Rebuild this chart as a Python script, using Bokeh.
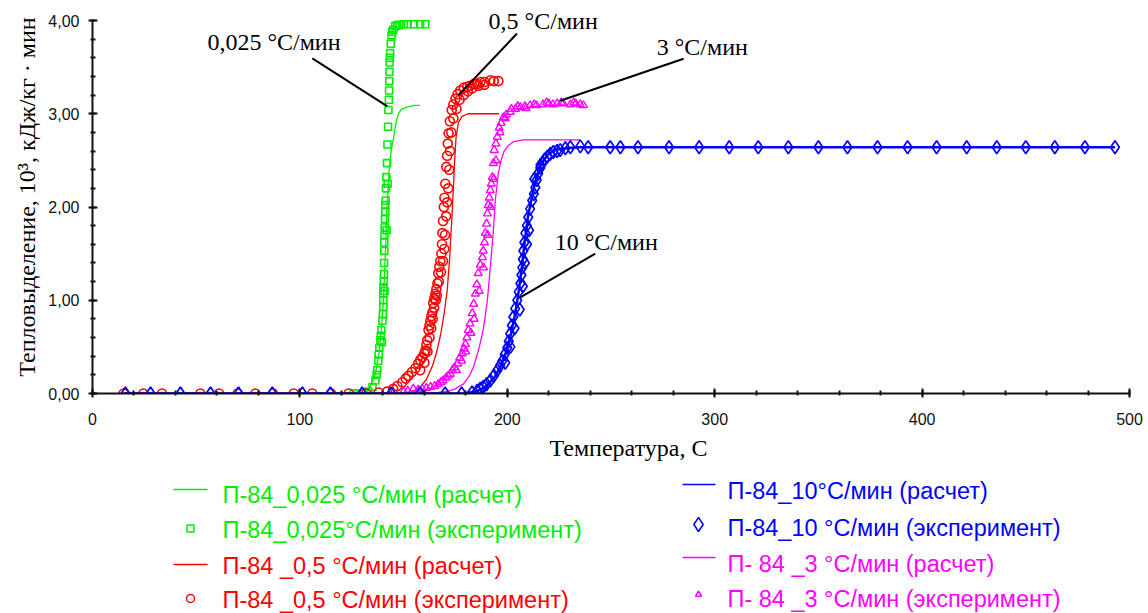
from bokeh.plotting import figure
from bokeh.models import Range1d, SingleIntervalTicker, CustomJSTickFormatter, Label
from bokeh.layouts import column
from bokeh.embed import file_html
from bokeh.resources import INLINE
from bokeh.core.properties import value

# ---------------- data ----------------
# 0,025 °C/min
green_calc_t = [15, 128, 131, 133, 134.5, 136, 137, 138, 139, 140.3, 141.2, 142, 143, 144, 145, 146.3, 147.5, 149, 151.8, 155, 158]
green_calc_v = [0, 0, 0.01, 0.04, 0.1, 0.18, 0.28, 0.42, 0.6, 1.0, 1.5, 2.0, 2.4, 2.6, 2.72, 2.9, 3.0, 3.05, 3.07, 3.09, 3.09]
green_exp_t = [126, 128, 131, 133, 135, 136.4, 137, 137.3, 137.8, 138, 138.3, 138.8, 139, 139.3, 139.8, 140, 140.2, 140.2, 140.2,
               140.3, 140.4, 140.5, 140.6, 140.7, 140.7, 140.8, 140.9, 141, 141.2, 141.2, 141.4, 141.5, 141.7, 142, 142.2, 142.5,
               142.7, 142.9, 143, 143.1, 143.2, 143.3, 143.5, 143.8, 144.2, 145, 146, 148, 150, 152, 155, 158, 160.5,
               139.5, 140.8, 141.8, 142.3, 143.4, 144.5, 147]
green_exp_v = [0, 0, 0.01, 0.02, 0.07, 0.14, 0.2, 0.25, 0.35, 0.42, 0.49, 0.57, 0.62, 0.68, 0.78, 0.85, 0.93, 1.0, 1.07,
               1.14, 1.2, 1.28, 1.4, 1.53, 1.62, 1.7, 1.78, 1.87, 1.95, 2.02, 2.07, 2.2, 2.32, 2.47, 2.67, 2.86,
               3.04, 3.15, 3.25, 3.35, 3.45, 3.55, 3.65, 3.75, 3.84, 3.9, 3.94, 3.95, 3.96, 3.96, 3.96, 3.96, 3.96,
               0.55, 1.1, 1.75, 2.25, 3.6, 3.88, 3.95]

# 0,5 °C/min
red_calc_t = [15, 150, 155, 158, 161, 164, 166, 168, 169.5, 171, 172.2, 173.2, 174, 174.6, 175.3, 176.4, 178, 181, 185, 196]
red_calc_v = [0, 0, 0.03, 0.07, 0.15, 0.3, 0.45, 0.65, 0.85, 1.1, 1.45, 1.85, 2.2, 2.5, 2.75, 2.9, 2.97, 3.0, 3.0, 3.0]
red_exp_t = [15, 24.5, 33.5, 52, 61, 70, 78.5, 87, 97, 106, 115, 123.5, 132, 138, 142,
             145, 147, 149.4, 151, 152.3, 154, 155.7, 157, 158, 159, 160, 160.5, 161, 161.4, 162, 162.5, 162.9, 163.4,
             163.9, 164.3, 164.8, 165.3, 165.8, 166.3, 166.7, 167.2, 167.7, 168.2, 168.5, 168.7, 169, 169.4, 169.7,
             170.1, 170.6, 171, 171.3, 171.7, 172.3, 173.2, 174, 175, 176, 177.3, 179, 180.7, 182, 184, 185.5, 187,
             189, 191.8, 193.5, 195.7,
             158, 160, 161.5, 162.5, 163.3, 164, 164.7, 165.5, 166, 167, 168, 169, 169.6, 170, 170.5, 171, 171.5,
             172, 172.4, 173, 174, 175.5, 177, 179, 181, 183, 186, 189]
red_exp_v = [0, 0, 0, 0, 0, 0, 0, 0, 0, 0, 0, 0, 0, 0.01, 0.02,
             0.05, 0.08, 0.12, 0.16, 0.19, 0.23, 0.27, 0.32, 0.36, 0.39, 0.43, 0.46, 0.52, 0.57, 0.68, 0.73, 0.78, 0.83,
             0.87, 0.97, 1.02, 1.07, 1.12, 1.18, 1.29, 1.36, 1.42, 1.5, 1.6, 1.72, 1.85, 2.0, 2.1,
             2.25, 2.43, 2.55, 2.68, 2.79, 2.92, 3.04, 3.1, 3.16, 3.21, 3.25, 3.28, 3.29, 3.3, 3.32, 3.32, 3.34,
             3.34, 3.36, 3.35, 3.35,
             0.25, 0.33, 0.45, 0.6, 0.7, 0.8, 0.92, 1.0, 1.05, 1.2, 1.3, 1.42, 1.55, 1.7, 1.9, 2.05, 2.2,
             2.4, 2.6, 2.8, 2.95, 3.05, 3.15, 3.2, 3.24, 3.27, 3.3, 3.31]

# 3 °C/min
mag_calc_t = [15, 160, 166, 170, 172.5, 175, 177, 178.8, 180.5, 182, 183.6, 185, 186.5, 188, 189.3, 190.4, 191.8,
              193.2, 194.2, 195.7, 197, 198.5, 200.5, 203, 207.7, 235]
mag_calc_v = [0, 0, 0.01, 0.02, 0.03, 0.05, 0.08, 0.1, 0.15, 0.2, 0.28, 0.38, 0.5, 0.64, 0.82, 1.0, 1.35,
              1.72, 2.07, 2.36, 2.5, 2.6, 2.66, 2.7, 2.72, 2.72]
mag_exp_t = [150, 152, 154.7, 157, 159, 161, 163, 165, 166.7, 168, 169, 170.5, 171.5, 172.5, 173.5, 174.5, 176, 177,
             178.3, 179, 179.8, 180.5, 181.2, 182, 183.1, 183.8, 184.6, 185.3, 186, 187, 188, 188.4, 189, 189.4, 190,
             190.4, 190.8, 191.3, 191.8, 192.3, 192.8, 193.3, 193.7, 194.5, 195.2, 196.1, 197, 198.1, 199.5, 201.4,
             204, 206.3, 208.5, 211, 214, 217.3, 220, 222, 224, 227, 230.4, 233, 235.2, 236.7,
             175.5, 178, 180, 182.5, 184, 186.5, 188.5, 190.5, 192, 193.5, 194.5, 196.5, 199, 202, 205, 209, 213,
             219, 226, 232]
mag_exp_v = [0.02, 0.03, 0.05, 0.04, 0.05, 0.06, 0.07, 0.08, 0.1, 0.12, 0.14, 0.17, 0.19, 0.21, 0.25, 0.28, 0.32, 0.38,
             0.43, 0.48, 0.53, 0.6, 0.68, 0.75, 0.86, 0.96, 1.07, 1.17, 1.29, 1.38, 1.46, 1.53, 1.62, 1.72, 1.82,
             1.93, 2.02, 2.1, 2.18, 2.25, 2.32, 2.47, 2.61, 2.68, 2.75, 2.85, 2.9, 2.96, 2.99, 3.02,
             3.05, 3.07, 3.08, 3.09, 3.09, 3.1, 3.11, 3.1, 3.11, 3.11, 3.1, 3.11, 3.1, 3.09,
             0.25, 0.35, 0.45, 0.65, 0.8, 1.1, 1.35, 1.7, 2.0, 2.3, 2.5, 2.8, 2.95, 3.05, 3.08, 3.06, 3.1,
             3.12, 3.12, 3.12]

# 10 °C/min
blue_calc_t = [15, 180, 186, 190, 194, 197, 200, 202, 204, 205.5, 207, 208.5, 210, 212, 214, 216.5, 219.5, 223, 228, 235, 493]
blue_calc_v = [0, 0, 0.03, 0.08, 0.18, 0.3, 0.48, 0.66, 0.88, 1.1, 1.35, 1.65, 1.9, 2.12, 2.32, 2.47, 2.56, 2.61, 2.63, 2.64, 2.64]
blue_exp_t = [15.9, 28, 42.4, 56.9, 70.4, 86.7, 101.2, 114.7, 130, 144, 158, 170, 178,
              183, 185.5, 187, 188.4, 190, 191.8, 193.5, 195.2, 196.5, 197.6, 198.8, 200, 200.7, 201.4, 202.2, 202.9,
              203.8, 204.8, 205.5, 206.3, 206.8, 207.2, 207.5, 207.7, 208.2, 208.7, 209.4, 210.1, 211, 212, 212.8,
              213.5, 214.2, 214.9, 215.9, 216.9, 218, 219.3, 220.7, 222.2, 224, 225.5, 228, 230.4, 235.2, 239, 249.6,
              254.5, 263, 278, 292.5, 307, 321, 335.5, 350, 364, 378.5, 393, 407, 421.5, 436, 450, 464, 478.5, 493,
              199, 201.5, 203.5, 206, 207.5, 208.5, 209.5, 210.5, 213, 216]
blue_exp_v = [0, 0, 0, 0, 0, 0, 0, 0, 0, 0, 0, 0, 0,
              0.01, 0.03, 0.05, 0.07, 0.1, 0.14, 0.19, 0.25, 0.3, 0.35, 0.42, 0.49, 0.56, 0.64, 0.73, 0.82,
              0.91, 1.0, 1.09, 1.18, 1.27, 1.35, 1.44, 1.53, 1.62, 1.72, 1.8, 1.89, 1.98, 2.07, 2.14,
              2.21, 2.29, 2.36, 2.42, 2.47, 2.51, 2.54, 2.57, 2.59, 2.6, 2.61, 2.63, 2.64, 2.65, 2.64, 2.64,
              2.64, 2.64, 2.64, 2.64, 2.64, 2.64, 2.64, 2.64, 2.64, 2.64, 2.64, 2.64, 2.64, 2.64, 2.64, 2.64, 2.64, 2.64,
              0.33, 0.5, 0.7, 0.9, 1.15, 1.4, 1.6, 1.75, 2.3, 2.45]

# annotations: text, label position, leader line (start, end)
ann_text = ["0,025 °C/мин", "0,5 °C/мин", "3 °C/мин", "10 °C/мин"]
ann_x = [87.5, 217.3, 294.0, 247.7]
ann_y = [3.77, 3.99, 3.72, 1.63]
lead_x0 = [106.0, 204.7, 285.0, 242.4]
lead_y0 = [3.594, 3.86, 3.59, 1.50]
lead_x1 = [142.2, 176.5, 225.5, 206.3]
lead_y1 = [3.079, 3.20, 3.14, 1.03]

x_title = "Температура, С"
y_title = "Тепловыделение, 10³, кДж/кг · мин"

# legend
leg_left_labels = ["П-84_0,025 °C/мин (расчет)", "П-84_0,025°C/мин (эксперимент)",
                   "П-84 _0,5 °C/мин (расчет)", "П-84 _0,5 °C/мин (эксперимент)"]
leg_right_labels = ["П-84_10°C/мин (расчет)", "П-84_10 °C/мин (эксперимент)",
                    "П- 84 _3 °C/мин (расчет)", "П- 84 _3 °C/мин (эксперимент)"]

GREEN, RED, BLUE, MAG = "#00ee00", "#ff0000", "#0000ff", "#ff00ff"
leg_left_colors = [GREEN, GREEN, RED, RED]
leg_right_colors = [BLUE, BLUE, MAG, MAG]

SERIF = "Liberation Serif"
SANS = "Liberation Sans"

# ---------------- layout geometry ----------------
W, H = 1148, 613
FL, FR, FB = 92, 1129, 393          # frame left / right / bottom (pixels)
H_TOP = 430
H_LEG = H - H_TOP
Y_PX_PER_UNIT = 93.25
y_end = FB / Y_PX_PER_UNIT          # frame extends to the canvas top; the axis stops at 4

# ---------------- main plot ----------------
p = figure(width=W, height=H_TOP, x_range=Range1d(0, 500), y_range=Range1d(0, y_end),
           output_backend="svg", toolbar_location=None,
           min_border_left=FL, min_border_right=W - FR, min_border_top=0, min_border_bottom=H_TOP - FB)
p.outline_line_color = None
p.grid.visible = False
p.background_fill_color = "white"
p.border_fill_color = "white"

p.xaxis.ticker = SingleIntervalTicker(interval=100, num_minor_ticks=5)
p.yaxis.ticker = SingleIntervalTicker(interval=1, num_minor_ticks=5)
p.yaxis.formatter = CustomJSTickFormatter(code="return tick.toFixed(2).replace('.', ',');")
p.xaxis.bounds = (0, 500)
p.yaxis.bounds = (0, 4)
for ax in (p.xaxis[0], p.yaxis[0]):
    ax.axis_line_color = "#111111"
    ax.axis_line_width = 2
    ax.major_tick_line_color = "#111111"
    ax.minor_tick_line_color = "#111111"
    ax.major_tick_line_width = 2
    ax.minor_tick_line_width = 2
    ax.major_tick_in = 5
    ax.major_tick_out = 4
    ax.minor_tick_in = 3
    ax.minor_tick_out = 2
    ax.major_label_text_font = SANS
    ax.major_label_text_font_size = "16px"
    ax.major_label_text_color = "#111111"
p.xaxis.major_label_standoff = 15
p.yaxis.major_label_standoff = 9
p.yaxis.axis_label = y_title
p.yaxis.axis_label_text_font = SERIF
p.yaxis.axis_label_text_font_style = "normal"
p.yaxis.axis_label_text_font_size = "24px"
p.yaxis.axis_label_text_color = "black"
p.yaxis.axis_label_standoff = 5

# series
p.scatter(green_exp_t, green_exp_v, marker="square", size=7, fill_color=None, line_color=GREEN, line_width=1.6)
p.line(green_calc_t, green_calc_v, line_color=GREEN, line_width=1.3)
p.scatter(red_exp_t, red_exp_v, marker="circle", size=9, fill_color=None, line_color=RED, line_width=1.6)
p.line(red_calc_t, red_calc_v, line_color=RED, line_width=1.3)
p.scatter(mag_exp_t, mag_exp_v, marker="triangle", size=8, fill_color=None, line_color=MAG, line_width=1.4)
p.line(mag_calc_t, mag_calc_v, line_color=MAG, line_width=1.3)
p.scatter(blue_exp_t, blue_exp_v, marker="diamond", size=13, fill_color=None, line_color=BLUE, line_width=1.7)
p.line(blue_calc_t, blue_calc_v, line_color=BLUE, line_width=2.5)

# annotations
p.segment(x0=lead_x0, y0=lead_y0, x1=lead_x1, y1=lead_y1, line_color="black", line_width=2)
for t, x, y in zip(ann_text, ann_x, ann_y):
    p.add_layout(Label(x=x, y=y, text=t, text_align="center", text_baseline="middle",
                       text_font=SERIF, text_font_size="24px", text_color="black"))

# ---------------- lower panel: x title + legend (pixel coordinates) ----------------
lg = figure(width=W, height=H_LEG, x_range=Range1d(FL, FR), y_range=Range1d(H, H_TOP),
            output_backend="svg", toolbar_location=None, x_axis_location=None, y_axis_location=None,
            min_border_left=FL, min_border_right=W - FR, min_border_top=0, min_border_bottom=0)
lg.outline_line_color = None
lg.grid.visible = False
lg.background_fill_color = "white"
lg.border_fill_color = "white"

lg.text([628], [447], text=[x_title], text_color="black", text_font=value(SERIF),
        text_font_size="24px", text_baseline="middle", text_align="center")

left_text_y = [494, 529, 565, 599]
right_text_y = [490, 527, 563, 598]
# left column
lg.segment(x0=[173, 173], y0=[489, 564], x1=[207, 207], y1=[489, 564], line_color=[GREEN, RED], line_width=1.5)
lg.scatter([190], [528], marker="square", size=7, fill_color=None, line_color=GREEN, line_width=1.5)
lg.scatter([190], [598], marker="circle", size=8, fill_color=None, line_color=RED, line_width=1.5)
lg.text([222] * 4, left_text_y, text=leg_left_labels, text_color=leg_left_colors,
        text_font=value(SANS), text_font_size="23.5px", text_baseline="middle", text_align="left")
# right column
lg.segment(x0=[682, 682], y0=[484, 557], x1=[715, 715], y1=[484, 557], line_color=[BLUE, MAG], line_width=1.5)
lg.scatter([698], [524], marker="diamond", size=14, fill_color=None, line_color=BLUE, line_width=1.5)
lg.scatter([698], [594], marker="triangle", size=6, fill_color=None, line_color=MAG, line_width=1.5)
lg.text([727] * 4, right_text_y, text=leg_right_labels, text_color=leg_right_colors,
        text_font=value(SANS), text_font_size="23.5px", text_baseline="middle", text_align="left")

layout = column(p, lg, spacing=0)
open("out.html", "w").write(file_html(layout, INLINE))
